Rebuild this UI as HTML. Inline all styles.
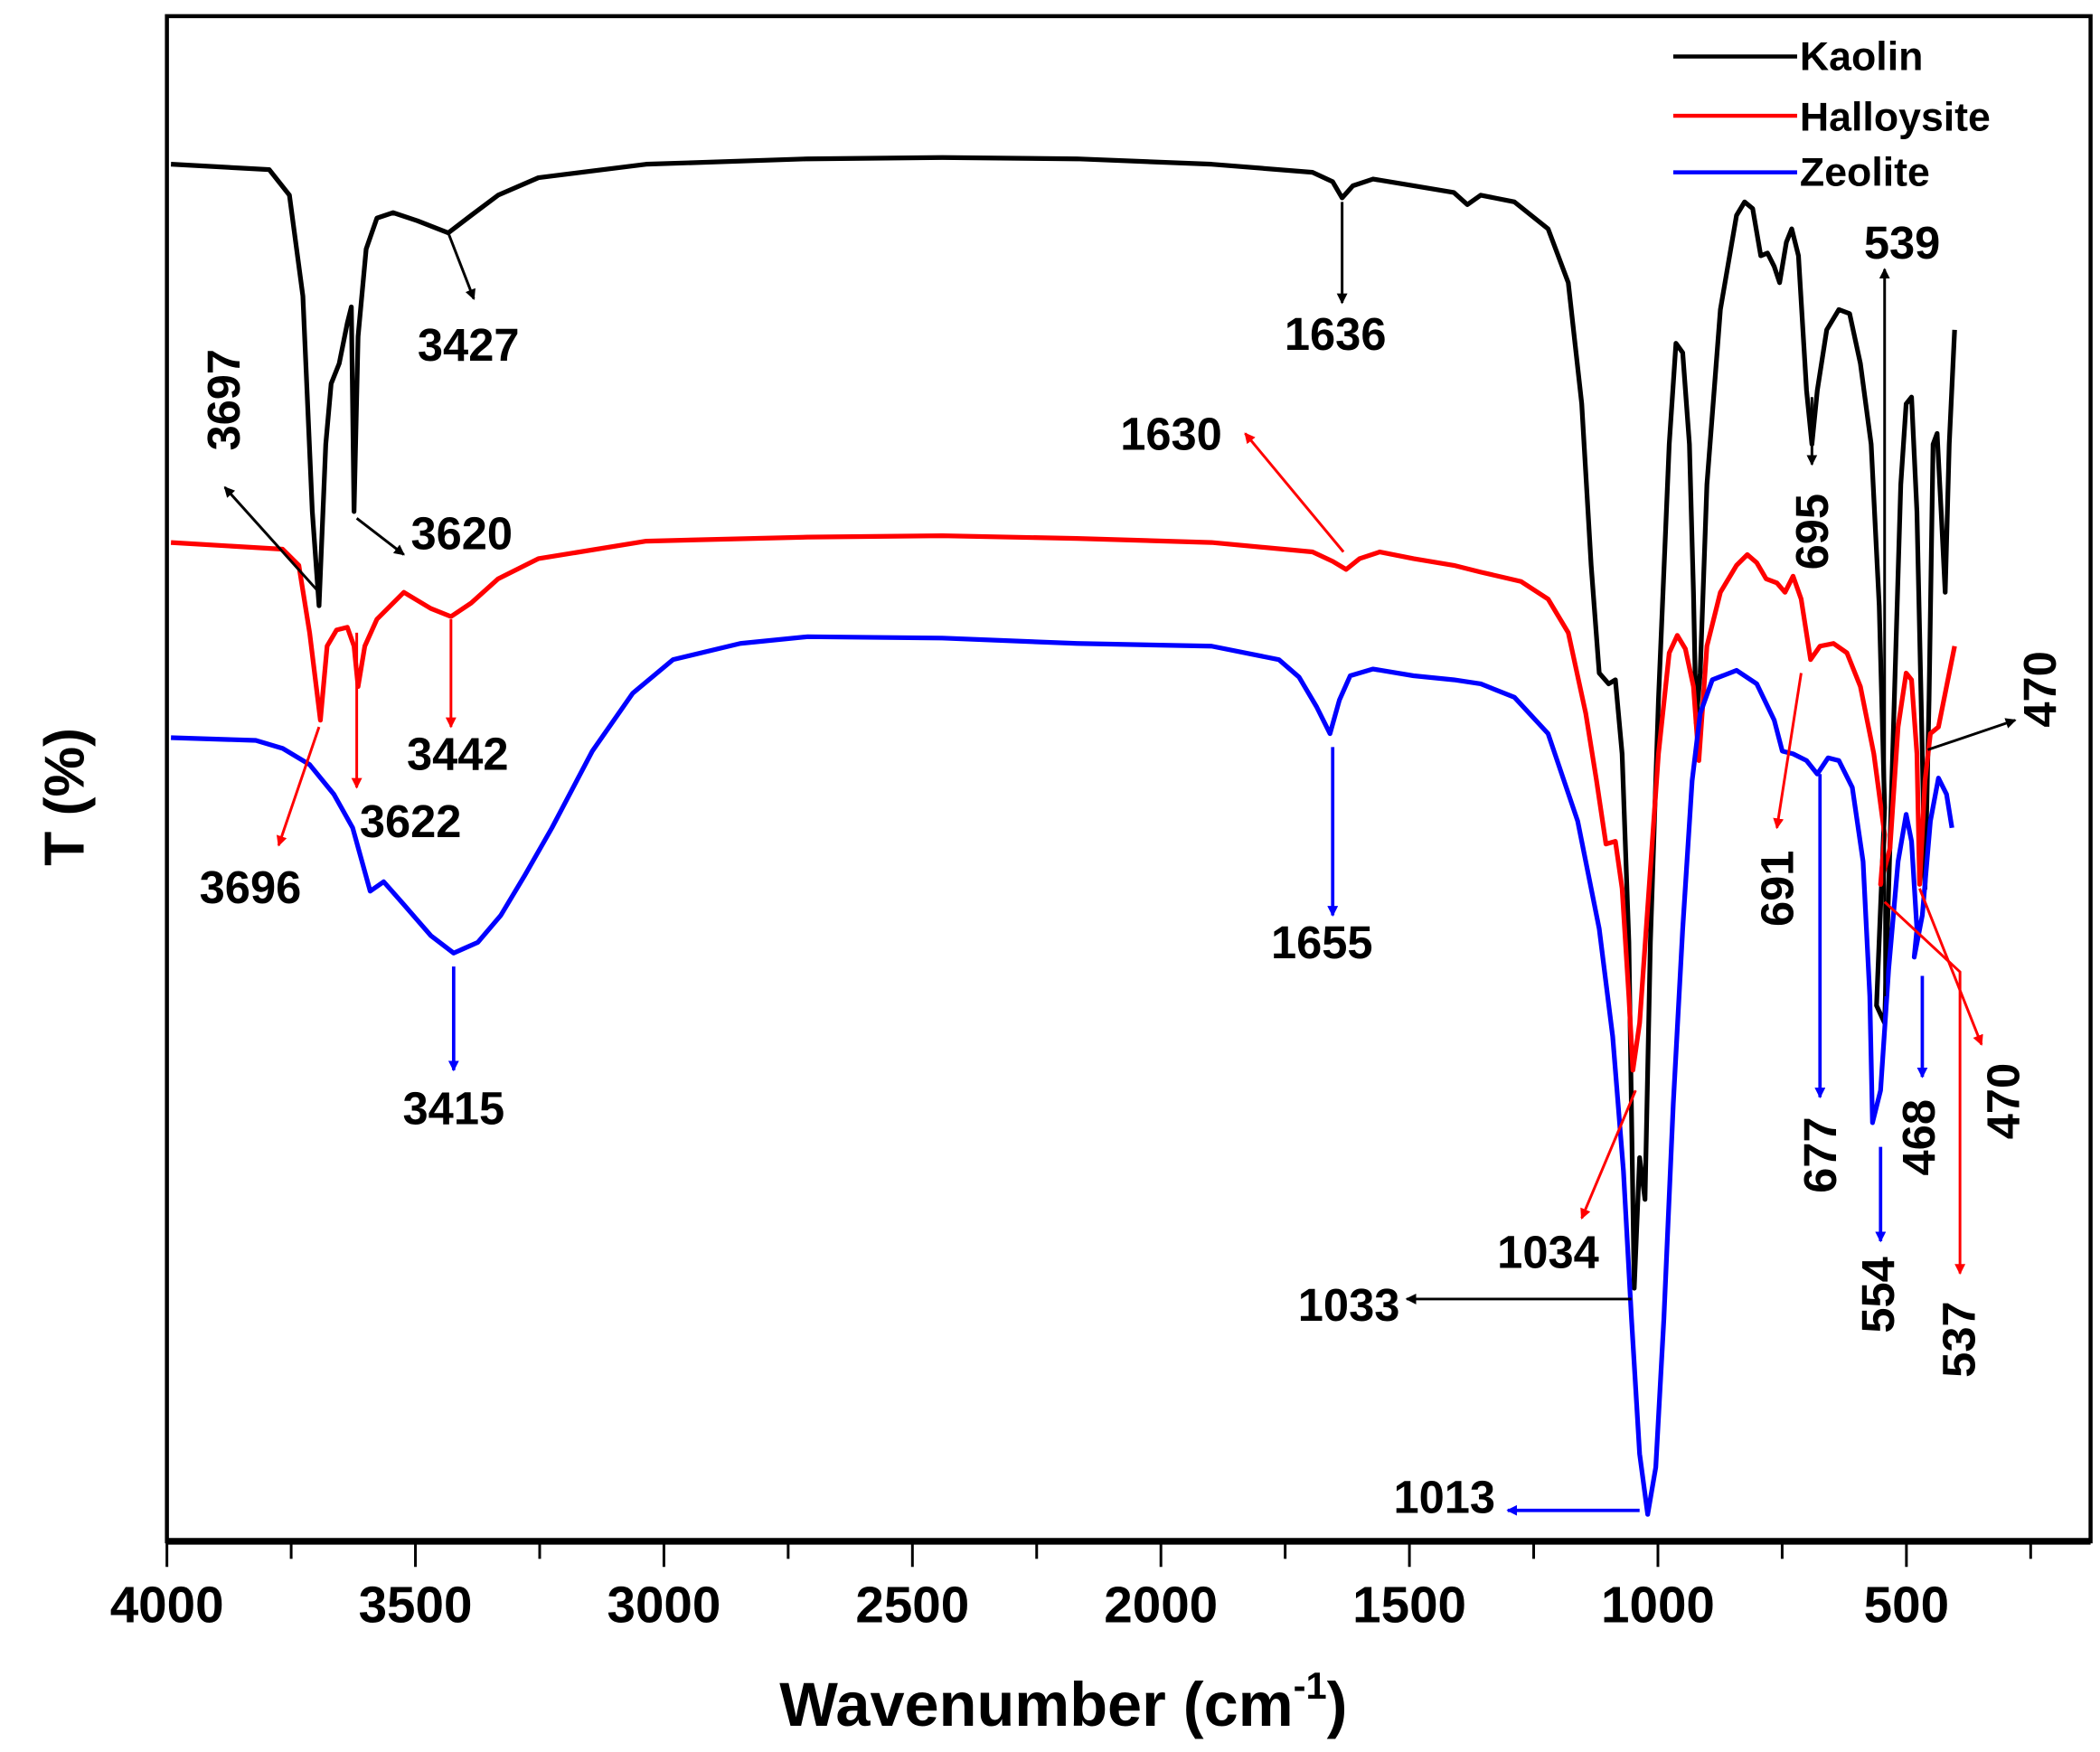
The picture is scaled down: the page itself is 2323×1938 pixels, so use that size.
<!DOCTYPE html>
<html><head><meta charset="utf-8"><style>
html,body{margin:0;padding:0;background:#fff;}
svg{display:block;}
text{font-family:"Liberation Sans",Arial,sans-serif;font-weight:bold;}
</style></head><body>
<svg width="2323" height="1938" viewBox="0 0 1560 1301.5" preserveAspectRatio="none" xmlns="http://www.w3.org/2000/svg">
<defs>
<marker id="ak" markerWidth="8" markerHeight="8" refX="7" refY="4" orient="auto" markerUnits="userSpaceOnUse"><path d="M0,0 L8,4 L0,8 z" fill="#000"/></marker>
<marker id="ar" markerWidth="8" markerHeight="8" refX="7" refY="4" orient="auto" markerUnits="userSpaceOnUse"><path d="M0,0 L8,4 L0,8 z" fill="#f00"/></marker>
<marker id="ab" markerWidth="8" markerHeight="8" refX="7" refY="4" orient="auto" markerUnits="userSpaceOnUse"><path d="M0,0 L8,4 L0,8 z" fill="#00f"/></marker>
</defs>
<rect x="124" y="12" width="1429" height="1133" fill="none" stroke="#000" stroke-width="3"/>
<line x1="124" y1="1145" x2="1553" y2="1145" stroke="#000" stroke-width="5"/>
<g stroke="#000" stroke-width="2">
<line x1="124" y1="1145" x2="124" y2="1164"/><line x1="308.6" y1="1145" x2="308.6" y2="1164"/><line x1="493.2" y1="1145" x2="493.2" y2="1164"/><line x1="677.8" y1="1145" x2="677.8" y2="1164"/><line x1="862.4" y1="1145" x2="862.4" y2="1164"/><line x1="1047" y1="1145" x2="1047" y2="1164"/><line x1="1231.6" y1="1145" x2="1231.6" y2="1164"/><line x1="1416.2" y1="1145" x2="1416.2" y2="1164"/>
<line x1="216.3" y1="1145" x2="216.3" y2="1158"/><line x1="400.9" y1="1145" x2="400.9" y2="1158"/><line x1="585.5" y1="1145" x2="585.5" y2="1158"/><line x1="770.1" y1="1145" x2="770.1" y2="1158"/><line x1="954.7" y1="1145" x2="954.7" y2="1158"/><line x1="1139.3" y1="1145" x2="1139.3" y2="1158"/><line x1="1323.9" y1="1145" x2="1323.9" y2="1158"/><line x1="1508.5" y1="1145" x2="1508.5" y2="1158"/>
</g>
<g font-size="38" text-anchor="middle" fill="#000">
<text x="124" y="1205">4000</text><text x="308.6" y="1205">3500</text><text x="493.2" y="1205">3000</text><text x="677.8" y="1205">2500</text><text x="862.4" y="1205">2000</text><text x="1047" y="1205">1500</text><text x="1231.6" y="1205">1000</text><text x="1416.2" y="1205">500</text>
</g>
<text x="790" y="1282" font-size="46" text-anchor="middle">Wavenumber (cm<tspan font-size="28" dy="-20">-1</tspan><tspan dy="20">)</tspan></text>
<text transform="translate(62,592) rotate(-90)" font-size="42" text-anchor="middle">T (%)</text>
<!-- legend -->
<line x1="1243" y1="42" x2="1335" y2="42" stroke="#000" stroke-width="3"/>
<line x1="1243" y1="86" x2="1335" y2="86" stroke="#f00" stroke-width="3"/>
<line x1="1243" y1="128" x2="1335" y2="128" stroke="#00f" stroke-width="3"/>
<g font-size="30"><text x="1337" y="52">Kaolin</text><text x="1337" y="97">Halloysite</text><text x="1337" y="138">Zeolite</text></g>
<!-- series -->
<polyline fill="none" stroke="#000" stroke-width="3.5" stroke-linejoin="round" points="127,122 200,126 215,145 225,220 232,380 237,450 242,330 246,285 252,270 258,240 261,228 263,380 266,250 272,185 280,162 292,158 310,164 333,173 350,160 370,145 400,132 480,122 600,118 700,117 800,118 900,122 975,128 990,135 997,147 1005,138 1020,133 1050,138 1080,143 1090,152 1100,145 1125,150 1150,170 1165,210 1175,300 1182,420 1188,500 1195,508 1200,505 1205,560 1210,700 1214,957 1218,860 1222,891 1226,700 1232,520 1240,330 1245,255 1250,262 1255,330 1258,440 1260,537 1263,500 1268,360 1278,230 1290,160 1296,150 1302,155 1308,190 1313,188 1318,198 1322,210 1327,180 1331,170 1336,190 1342,290 1346,330 1350,290 1357,245 1366,230 1374,233 1382,270 1390,330 1396,450 1400,600 1394,747 1400,760 1406,560 1412,360 1416,300 1420,295 1424,380 1428,560 1430,660 1433,520 1436,330 1439,322 1442,380 1445,440 1448,330 1452,245"/>
<polyline fill="none" stroke="#f00" stroke-width="3.5" stroke-linejoin="round" points="127,403 210,408 222,420 230,470 238,535 243,480 250,468 258,466 263,480 266,510 271,480 280,460 300,440 320,452 335,458 350,448 370,430 400,415 480,402 600,399 700,398 800,400 900,403 975,410 990,417 1000,423 1010,415 1025,410 1050,415 1080,420 1100,425 1130,432 1150,445 1165,470 1178,530 1186,580 1193,627 1200,625 1205,660 1210,740 1213,795 1218,760 1225,660 1232,560 1240,485 1246,472 1252,482 1258,510 1262,565 1268,480 1278,440 1290,420 1298,412 1305,418 1312,430 1320,433 1326,440 1332,428 1338,445 1345,490 1352,480 1362,478 1372,485 1382,510 1392,560 1400,620 1397,657 1404,630 1410,540 1416,500 1420,505 1424,560 1426,657 1430,580 1434,545 1440,540 1446,510 1452,480"/>
<polyline fill="none" stroke="#00f" stroke-width="3.5" stroke-linejoin="round" points="127,548 190,550 210,556 230,568 248,590 262,615 275,662 285,655 300,672 320,695 337,708 355,700 372,680 390,650 410,615 440,558 470,515 500,490 550,478 600,473 700,474 800,478 900,480 950,490 965,503 978,525 988,545 995,520 1003,502 1020,497 1050,502 1080,505 1100,508 1125,518 1150,545 1172,610 1188,690 1198,770 1206,870 1212,980 1218,1080 1224,1125 1230,1090 1236,980 1243,820 1250,690 1257,580 1263,530 1272,505 1290,498 1305,508 1318,535 1324,558 1332,560 1342,565 1350,575 1358,563 1366,565 1376,585 1384,640 1389,740 1391,834 1397,810 1403,720 1410,640 1416,605 1420,625 1424,690 1422,711 1428,680 1434,610 1440,578 1446,590 1450,615"/>
<!-- annotations black -->
<g stroke="#000" stroke-width="2" fill="none">
<line x1="237" y1="440" x2="167" y2="362" marker-end="url(#ak)"/>
<line x1="265" y1="385" x2="300" y2="412" marker-end="url(#ak)"/>
<line x1="333" y1="173" x2="352" y2="222" marker-end="url(#ak)"/>
<line x1="997" y1="150" x2="997" y2="225" marker-end="url(#ak)"/>
<line x1="1346" y1="295" x2="1346" y2="345" marker-end="url(#ak)"/>
<line x1="1400" y1="740" x2="1400" y2="200" marker-end="url(#ak)"/>
<line x1="1432" y1="557" x2="1497" y2="535" marker-end="url(#ak)"/>
<line x1="1212" y1="965" x2="1045" y2="965" marker-end="url(#ak)"/>
</g>
<g stroke="#f00" stroke-width="2" fill="none">
<line x1="998" y1="410" x2="925" y2="322" marker-end="url(#ar)"/>
<line x1="237" y1="540" x2="207" y2="628" marker-end="url(#ar)"/>
<line x1="265" y1="470" x2="265" y2="585" marker-end="url(#ar)"/>
<line x1="335" y1="460" x2="335" y2="540" marker-end="url(#ar)"/>
<line x1="1215" y1="810" x2="1175" y2="905" marker-end="url(#ar)"/>
<line x1="1338" y1="500" x2="1320" y2="615" marker-end="url(#ar)"/>
<polyline points="1400,670 1456,722 1456,946" marker-end="url(#ar)"/>
<line x1="1426" y1="660" x2="1472" y2="776" marker-end="url(#ar)"/>
</g>
<g stroke="#00f" stroke-width="2.5" fill="none">
<line x1="990" y1="555" x2="990" y2="680" marker-end="url(#ab)"/>
<line x1="337" y1="718" x2="337" y2="795" marker-end="url(#ab)"/>
<line x1="1218" y1="1122" x2="1120" y2="1122" marker-end="url(#ab)"/>
<line x1="1352" y1="575" x2="1352" y2="815" marker-end="url(#ab)"/>
<line x1="1397" y1="852" x2="1397" y2="922" marker-end="url(#ab)"/>
<line x1="1428" y1="725" x2="1428" y2="800" marker-end="url(#ab)"/>
</g>
<g font-size="34" fill="#000" text-anchor="middle">
<text x="348" y="268">3427</text><text x="343" y="408">3620</text><text x="992" y="260">1636</text>
<text x="1413" y="192">539</text><text x="1002" y="981">1033</text>
<text x="870" y="334">1630</text><text x="186" y="671">3696</text><text x="305" y="622">3622</text><text x="340" y="572">3442</text><text x="1150" y="942">1034</text>
<text x="982" y="712">1655</text><text x="337" y="835">3415</text><text x="1073" y="1124">1013</text>
<text transform="translate(178,297) rotate(-90)">3697</text>
<text transform="translate(1358,395) rotate(-90)">695</text>
<text transform="translate(1527,512) rotate(-90)">470</text>
<text transform="translate(1332,660) rotate(-90)">691</text>
<text transform="translate(1467,995) rotate(-90)">537</text>
<text transform="translate(1500,818) rotate(-90)">470</text>
<text transform="translate(1364,858) rotate(-90)">677</text>
<text transform="translate(1407,962) rotate(-90)">554</text>
<text transform="translate(1437,845) rotate(-90)">468</text>
</g>
</svg>
</body></html>
